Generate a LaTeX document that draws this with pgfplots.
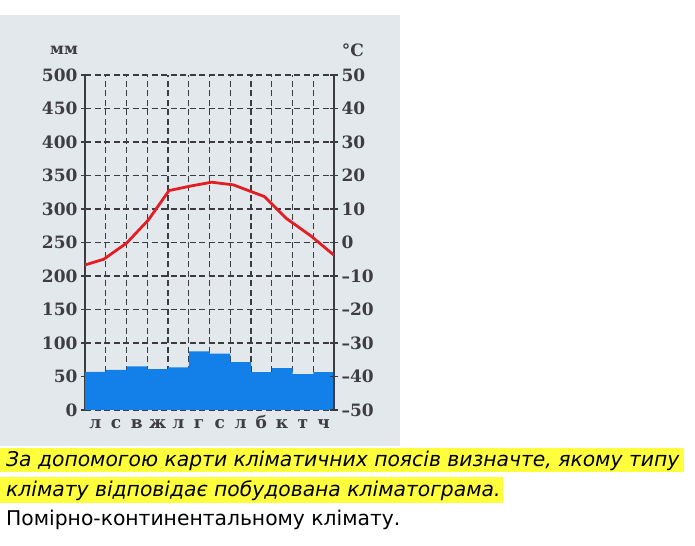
\documentclass[border=0pt]{standalone}
\usepackage{fontspec}
\usepackage{pgfplots}
\pgfplotsset{compat=1.18}
\setmainfont{DejaVu Sans}[ItalicFont={DejaVu Sans Oblique}]
\newfontfamily\chartfont{DejaVu Serif}
\definecolor{bg}{RGB}{227,232,236}
\definecolor{hl}{RGB}{255,255,60}
\definecolor{barblue}{RGB}{18,128,232}
\definecolor{templine}{RGB}{226,30,36}
\definecolor{labcol}{RGB}{62,62,66}
\definecolor{gridcol}{RGB}{60,60,64}

\begin{document}
\begin{tikzpicture}
\path[use as bounding box] (0,0) rectangle (695bp,546bp);
\fill[bg] (0,100bp) rectangle (400bp,531bp);
\fill[hl] (0,74.3bp) rectangle (684bp,97.7bp);
\fill[hl] (0,43bp) rectangle (503bp,69.3bp);

\node[anchor=base west, inner sep=0] at (6bp,79bp)
  {\fontsize{20.3bp}{24bp}\selectfont\itshape За допомогою карти кліматичних поясів визначте, якому типу};
\node[anchor=base west, inner sep=0] at (6bp,49bp)
  {\fontsize{20.3bp}{24bp}\selectfont\itshape клімату відповідає побудована кліматограма.};
\node[anchor=base west, inner sep=0] at (6bp,21bp)
  {\fontsize{20.3bp}{24bp}\selectfont Помірно-континентальному клімату.};

\pgfplotsset{
  chart/.style={
    at={(85bp,136bp)}, anchor=south west,
    scale only axis, width=249bp, height=335bp,
    xmin=0, xmax=12,
    /pgf/number format/assume math mode=true,
    tick label style={font=\chartfont\bfseries\fontsize{17bp}{17bp}\selectfont, text=labcol},
    tick align=center, major tick length=8bp,
    tick style={draw=gridcol, line width=1.2bp},
  }
}

% precipitation, mm
\begin{axis}[chart,
    ymin=0, ymax=500,
    xtick={0.5,1.5,...,11.5},
    xticklabels={л,с,в,ж,л,г,с,л,б,к,т,ч},
    minor xtick={1,...,11},
    x tick style={draw=none},
    ytick={0,50,...,500}, ytick pos=left,
    xminorgrids, ymajorgrids,
    grid style={draw=gridcol, line width=1.3bp, dash pattern=on 6bp off 3.5bp},
    minor grid style={draw=gridcol, line width=1.3bp, dash pattern=on 6bp off 3.5bp},
    separate axis lines,
    x axis line style={draw=none},
    y axis line style={draw=gridcol, line width=1.8bp},
    xticklabel style={yshift=-2bp, text height=9bp, text depth=2bp},
  ]
  \addplot[ybar, bar width=1, fill=barblue, draw=none] coordinates {
    (0.5,57) (1.5,60) (2.5,65) (3.5,61) (4.5,63.5) (5.5,87.5)
    (6.5,84) (7.5,71.5) (8.5,56.5) (9.5,62.5) (10.5,53.5) (11.5,56.5)};
\end{axis}

% temperature, C
\begin{axis}[chart,
    ymin=-50, ymax=50,
    hide x axis,
    axis y line*=right,
    ytick={-50,-40,...,50},
    yticklabels={–50,–40,–30,–20,–10,0,10,20,30,40,50},
    yticklabel style={anchor=west},
    y axis line style={draw=gridcol, line width=1.8bp},
  ]
  \addplot[templine, line width=2.8bp, line join=round] coordinates {
    (0,-6.7) (0.9,-5) (2,-0.2) (3.05,6.7) (4.05,15.5) (5.05,16.8)
    (6.1,18) (7.15,17.2) (8.65,13.7) (9.7,7.2) (10.9,1.9) (12,-3.8)};
\end{axis}

\node[font=\chartfont\bfseries\fontsize{16bp}{16bp}\selectfont, text=labcol] at (64bp,496bp) {мм};
\node[font=\chartfont\bfseries\fontsize{17bp}{17bp}\selectfont, text=labcol] at (353bp,496bp) {°C};
\end{tikzpicture}
\end{document}
